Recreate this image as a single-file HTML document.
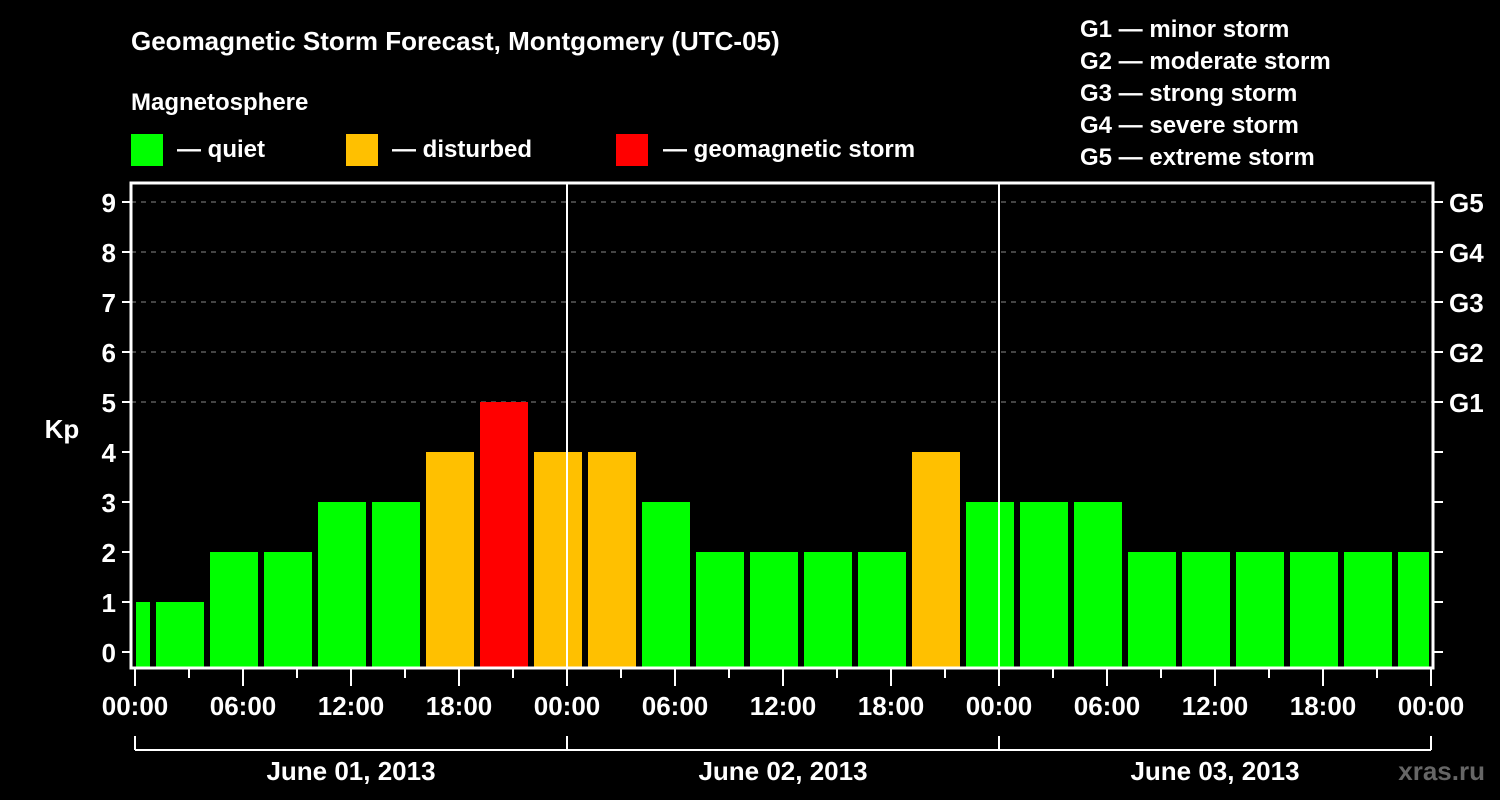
<!DOCTYPE html>
<html><head><meta charset="utf-8"><style>
html,body{margin:0;padding:0;background:#000;}
svg{display:block;font-family:"Liberation Sans",Arial,sans-serif;font-weight:bold;}
</style></head><body>
<svg id="chart" width="1500" height="800" viewBox="0 0 1500 800" xmlns="http://www.w3.org/2000/svg">
<rect x="0" y="0" width="1500" height="800" fill="#000"/>
<text x="131" y="50" fill="#fff" font-size="26">Geomagnetic Storm Forecast, Montgomery (UTC-05)</text>
<text x="131" y="110" fill="#fff" font-size="24">Magnetosphere</text>
<g><rect x="131" y="134" width="32" height="32" fill="#00ff00"/><text x="177" y="157" fill="#fff" font-size="24">— quiet</text></g>
<g><rect x="346" y="134" width="32" height="32" fill="#ffc000"/><text x="392" y="157" fill="#fff" font-size="24">— disturbed</text></g>
<g><rect x="616" y="134" width="32" height="32" fill="#ff0000"/><text x="663" y="157" fill="#fff" font-size="24">— geomagnetic storm</text></g>
<g fill="#fff" font-size="24">
<text x="1080" y="37">G1 — minor storm</text>
<text x="1080" y="69">G2 — moderate storm</text>
<text x="1080" y="101">G3 — strong storm</text>
<text x="1080" y="133">G4 — severe storm</text>
<text x="1080" y="165">G5 — extreme storm</text>
</g>
<text x="62" y="438" fill="#fff" font-size="26" text-anchor="middle">Kp</text>
<text x="1485" y="780" fill="#666" font-size="26" text-anchor="end">xras.ru</text>
<g id="grid"></g><g id="bars"></g><g id="axes"></g>
</svg>
<script>
const kpValues = [1, 1,2,2,3,3,4,5,4, 4,3,2,2,2,2,4,3, 3,3,2,2,2,2,2,2];
const barStartHours = [-2, 1,4,7,10,13,16,19,22, 25,28,31,34,37,40,43,46, 49,52,55,58,61,64,67,70];
const yTicks = [0,1,2,3,4,5,6,7,8,9];
const gLabels = ["G1","G2","G3","G4","G5"];
const gLevels = [5,6,7,8,9];
const xTickLabels = ["00:00","06:00","12:00","18:00","00:00","06:00","12:00","18:00","00:00","06:00","12:00","18:00","00:00"];
const dayLabels = ["June 01, 2013","June 02, 2013","June 03, 2013"];
const NS="http://www.w3.org/2000/svg";
const X0=135, PXH=18, Y0=652, PXK=50, LEFT=131, RIGHT=1433, TOP=183, BOT=668;
const xs=h=>X0+h*PXH, ys=v=>Y0-v*PXK;
function mk(tag,attrs,parent){const e=document.createElementNS(NS,tag);for(const k in attrs)e.setAttribute(k,attrs[k]);parent.appendChild(e);return e;}
const grid=document.getElementById('grid'),bars=document.getElementById('bars'),axes=document.getElementById('axes');
gLevels.forEach((lv,i)=>{
  const l=mk('line',{x1:LEFT,x2:RIGHT,y1:ys(lv),y2:ys(lv),stroke:'#888','stroke-width':1,'stroke-dasharray':'5,5'},grid);
  
  
});
kpValues.forEach((v,i)=>{
  let x1=Math.max(xs(barStartHours[i])+3,X0+1), x2=Math.min(xs(barStartHours[i]+3)-3,RIGHT-4);
  const c=v>=5?'#ff0000':(v>=4?'#ffc000':'#00ff00');
  const r=mk('rect',{x:x1,y:ys(v),width:x2-x1,height:BOT-ys(v),fill:c},bars);
  
  
});
[1,2].forEach(d=>{const l=mk('line',{x1:xs(24*d),x2:xs(24*d),y1:TOP,y2:BOT,stroke:'#fff','stroke-width':2},axes);
  
  });
const f=mk('rect',{x:LEFT,y:TOP,width:RIGHT-LEFT,height:BOT-TOP,fill:'none',stroke:'#fff','stroke-width':3},axes);


yTicks.forEach(v=>{
  mk('line',{x1:122,x2:LEFT,y1:ys(v),y2:ys(v),stroke:'#fff','stroke-width':2},axes);
  mk('line',{x1:RIGHT,x2:RIGHT+10,y1:ys(v),y2:ys(v),stroke:'#fff','stroke-width':2},axes);
  const t=mk('text',{x:116,y:ys(v)+10,fill:'#fff','font-size':26,'text-anchor':'end'},axes);t.textContent=v;
  
  
});
gLevels.forEach((lv,i)=>{const t=mk('text',{x:1449,y:ys(lv)+10,fill:'#fff','font-size':26},axes);t.textContent=gLabels[i];
  
  });
for(let h=0;h<=72;h+=3){const long=h%6===0;mk('line',{x1:xs(h),x2:xs(h),y1:BOT,y2:long?686:678,stroke:'#fff','stroke-width':2},axes);}
xTickLabels.forEach((s,i)=>{const t=mk('text',{x:xs(i*6),y:715,fill:'#fff','font-size':26,'text-anchor':'middle'},axes);t.textContent=s;
  
  });
mk('line',{x1:X0,x2:xs(72),y1:750,y2:750,stroke:'#fff','stroke-width':2},axes);
[0,24,48,72].forEach(h=>mk('line',{x1:xs(h),x2:xs(h),y1:736,y2:750,stroke:'#fff','stroke-width':2},axes));
dayLabels.forEach((s,i)=>{const t=mk('text',{x:xs(24*i+12),y:780,fill:'#fff','font-size':26,'text-anchor':'middle'},axes);t.textContent=s;
  
  });
</script>
</body></html>
